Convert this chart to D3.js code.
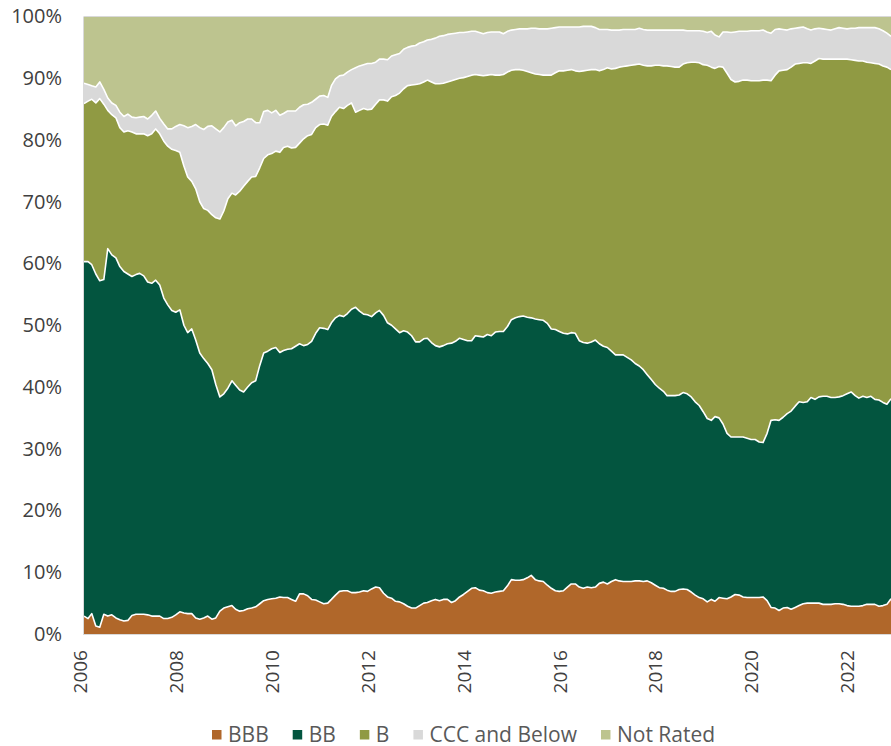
<!DOCTYPE html>
<html>
<head>
<meta charset="utf-8">
<script src="https://cdn.jsdelivr.net/npm/d3@7"></script>
<style>
  body { margin: 0; background: #fff; }
  svg { display: block; }
  text { font-family: "Open Sans", sans-serif; }
</style>
</head>
<body>
<svg class="graph" width="891" height="746"></svg>
<script>
// rating buckets and their colours
const ratings = ['BBB', 'BB', 'B', 'CCC and Below', 'Not Rated'];
const colors = ['#b0672a', '#03553f', '#909a43', '#d9d9d9', '#bdc48f'];

// axis ticks
const yearTicks = ['2006', '2008', '2010', '2012', '2014', '2016', '2018', '2020', '2022'];
const pctTicks = [0, 0.1, 0.2, 0.3, 0.4, 0.5, 0.6, 0.7, 0.8, 0.9, 1];

// monthly share (%) of each rating bucket, Jan 2006 - Nov 2022
const bbb = [
  2.9, 2.5, 3.3, 1.3, 1.1, 3.2, 2.9, 3.1, 2.6, 2.3, 2.1, 2.2, 3.0, 3.2, 3.2, 3.2, 3.1, 2.9, 2.9, 2.9,
  2.5, 2.5, 2.7, 3.1, 3.6, 3.4, 3.3, 3.3, 2.6, 2.4, 2.6, 2.9, 2.4, 2.6, 3.7, 4.2, 4.4, 4.6, 4.0, 3.7,
  3.8, 4.1, 4.2, 4.4, 4.9, 5.4, 5.6, 5.7, 5.8, 6.0, 5.9, 5.9, 5.6, 5.3, 6.5, 6.5, 6.2, 5.6, 5.5, 5.2,
  4.9, 5.0, 5.6, 6.3, 6.9, 7.0, 7.0, 6.7, 6.7, 6.8, 7.0, 6.9, 7.3, 7.6, 7.5, 6.6, 6.0, 5.8, 5.3, 5.2,
  4.9, 4.5, 4.2, 4.2, 4.6, 5.0, 5.1, 5.4, 5.6, 5.4, 5.6, 5.6, 5.1, 5.4, 6.0, 6.4, 6.9, 7.4, 7.5, 7.1,
  7.0, 6.7, 6.6, 6.8, 6.9, 7.0, 7.8, 8.8, 8.7, 8.7, 8.8, 9.1, 9.5, 8.8, 8.6, 8.5, 7.9, 7.4, 7.0, 6.9,
  7.0, 7.6, 8.1, 8.1, 7.6, 7.4, 7.6, 7.5, 7.6, 8.2, 8.4, 8.1, 8.5, 8.8, 8.6, 8.5, 8.5, 8.5, 8.6, 8.6,
  8.5, 8.6, 8.3, 7.9, 7.5, 7.4, 7.1, 6.9, 6.9, 7.2, 7.3, 7.2, 6.8, 6.3, 5.9, 5.7, 5.2, 5.6, 5.3, 5.9,
  5.8, 5.7, 6.0, 6.4, 6.3, 6.0, 5.9, 5.9, 5.9, 5.9, 6.0, 5.4, 4.3, 4.2, 3.8, 4.2, 4.3, 4.0, 4.3, 4.6,
  4.9, 5.0, 5.0, 5.0, 5.0, 4.8, 4.8, 4.8, 4.9, 4.9, 4.8, 4.6, 4.5, 4.5, 4.5, 4.6, 4.8, 4.8, 4.8, 4.5,
  4.6, 4.8, 5.7
];
const bb = [
  57.4, 57.8, 56.5, 57.0, 56.1, 54.2, 59.5, 58.3, 58.3, 57.2, 56.6, 56.1, 54.9, 55.0, 55.2, 54.8, 53.9, 53.9, 54.4, 53.6,
  51.9, 50.8, 49.7, 49.0, 48.9, 46.6, 45.5, 46.1, 45.0, 43.1, 42.0, 40.9, 40.4, 37.8, 34.7, 34.7, 35.4, 36.4, 36.3, 35.8,
  35.4, 35.9, 36.5, 36.6, 38.6, 40.1, 40.2, 40.5, 40.6, 39.6, 40.0, 40.2, 40.6, 41.3, 40.5, 40.2, 40.7, 41.8, 43.2, 44.4,
  44.6, 44.3, 44.8, 44.9, 44.7, 44.4, 44.9, 45.9, 46.2, 45.5, 44.8, 44.8, 44.1, 44.4, 44.9, 45.0, 44.4, 44.2, 44.1, 43.6,
  44.2, 44.4, 44.1, 43.1, 42.7, 42.8, 42.8, 41.8, 41.1, 41.1, 41.1, 41.4, 42.0, 42.0, 41.9, 41.3, 40.6, 40.1, 40.8, 41.1,
  41.1, 41.8, 41.7, 42.1, 42.1, 42.0, 42.0, 42.1, 42.5, 42.7, 42.7, 42.2, 41.7, 42.2, 42.3, 42.3, 42.4, 42.0, 42.3, 42.1,
  41.7, 41.0, 40.7, 40.6, 39.9, 39.8, 39.5, 39.8, 40.0, 38.8, 38.2, 38.3, 37.3, 36.4, 36.6, 36.7, 36.3, 35.9, 35.2, 34.8,
  34.3, 33.4, 32.9, 32.5, 32.3, 31.9, 31.5, 31.7, 31.7, 31.5, 31.8, 31.7, 31.6, 31.3, 31.1, 30.3, 29.7, 29.0, 29.9, 29.1,
  28.2, 26.8, 25.9, 25.5, 25.6, 25.9, 25.8, 25.6, 25.6, 25.2, 25.0, 27.1, 30.3, 30.5, 30.8, 30.9, 31.4, 32.1, 32.6, 33.0,
  32.6, 32.6, 33.3, 33.0, 33.4, 33.7, 33.7, 33.5, 33.4, 33.5, 33.8, 34.3, 34.7, 34.1, 33.7, 33.9, 33.5, 33.7, 33.2, 33.4,
  32.9, 32.4, 32.4
];
const b = [
  25.6, 26.0, 26.8, 27.7, 29.5, 28.4, 22.4, 22.7, 22.7, 22.5, 22.6, 23.2, 23.4, 22.8, 22.6, 23.0, 23.7, 24.2, 24.5, 24.5,
  25.4, 25.7, 26.1, 26.2, 25.5, 25.8, 25.2, 23.9, 24.5, 24.5, 24.3, 24.8, 25.1, 27.0, 28.8, 29.6, 30.7, 30.4, 30.8, 32.2,
  33.3, 33.3, 33.3, 33.1, 32.0, 31.5, 31.8, 31.6, 31.8, 32.4, 32.9, 32.9, 32.5, 32.2, 32.5, 33.5, 33.8, 33.5, 33.3, 32.9,
  33.1, 33.1, 33.4, 33.4, 33.7, 33.7, 33.7, 33.4, 31.6, 32.5, 33.3, 33.2, 33.6, 33.8, 34.1, 34.9, 35.9, 37.0, 37.8, 38.8,
  39.2, 39.9, 40.6, 41.7, 41.8, 41.6, 41.8, 42.2, 42.4, 42.6, 42.5, 42.4, 42.5, 42.4, 42.1, 42.4, 42.8, 43.0, 42.3, 42.3,
  42.3, 42.0, 42.3, 41.6, 41.5, 41.6, 41.2, 40.4, 40.2, 40.0, 39.8, 39.8, 39.7, 39.7, 39.7, 39.7, 40.2, 41.1, 41.6, 42.2,
  42.5, 42.7, 42.6, 42.5, 43.6, 44.0, 44.2, 44.1, 43.8, 44.2, 44.8, 45.3, 45.7, 46.4, 46.6, 46.7, 47.2, 47.7, 48.4, 48.9,
  49.3, 50.0, 50.8, 51.7, 52.3, 52.7, 53.4, 53.3, 53.2, 53.1, 53.2, 53.6, 54.2, 55.0, 55.5, 56.2, 57.2, 57.2, 56.4, 56.9,
  57.8, 58.3, 57.9, 57.5, 57.6, 57.8, 58.0, 58.1, 58.1, 58.5, 58.7, 57.2, 55.0, 55.8, 56.6, 56.2, 55.7, 55.7, 55.4, 54.8,
  55.0, 54.9, 54.1, 54.8, 54.8, 54.6, 54.6, 54.8, 54.8, 54.7, 54.5, 54.2, 53.8, 54.3, 54.6, 54.3, 54.3, 54.0, 54.4, 54.4,
  54.5, 54.6, 53.3
];
const ccc = [
  3.3, 2.7, 2.2, 2.6, 2.7, 2.4, 2.0, 1.9, 2.0, 2.5, 2.5, 2.7, 2.4, 2.6, 2.7, 2.8, 2.7, 3.0, 2.9, 2.5,
  2.8, 2.8, 3.3, 3.9, 4.5, 6.5, 8.0, 8.9, 10.4, 12.0, 12.8, 13.6, 14.4, 14.4, 14.1, 13.5, 12.4, 11.8, 11.2, 11.1,
  10.5, 10.1, 9.4, 8.7, 7.3, 7.6, 7.2, 6.6, 6.6, 6.0, 5.5, 5.7, 6.0, 5.9, 5.8, 5.5, 5.1, 5.2, 4.6, 4.6,
  4.6, 4.5, 5.0, 5.3, 5.1, 5.4, 5.4, 5.4, 7.2, 7.2, 7.1, 7.5, 7.4, 6.8, 6.6, 6.6, 6.7, 6.6, 6.6, 6.4,
  6.4, 6.2, 6.3, 6.3, 6.6, 6.5, 6.5, 6.9, 7.4, 7.7, 7.7, 7.7, 7.6, 7.5, 7.4, 7.3, 7.2, 7.1, 7.0, 6.9,
  6.8, 6.9, 6.9, 7.0, 7.0, 6.6, 6.6, 6.5, 6.5, 6.6, 6.7, 6.9, 7.2, 7.4, 7.4, 7.5, 7.5, 7.6, 7.3, 7.1,
  7.1, 7.0, 6.9, 7.1, 7.2, 7.2, 7.1, 7.0, 6.8, 6.7, 6.5, 6.2, 6.3, 6.2, 6.0, 6.0, 5.9, 5.8, 5.7, 5.8,
  5.8, 5.8, 5.8, 5.7, 5.7, 5.8, 5.8, 5.9, 6.0, 6.0, 5.5, 5.2, 5.1, 5.1, 5.2, 5.4, 5.3, 5.8, 5.4, 4.8,
  5.7, 6.7, 7.6, 8.1, 8.1, 7.9, 7.9, 8.1, 8.1, 8.1, 8.1, 7.8, 7.7, 7.4, 6.8, 6.6, 6.4, 6.2, 5.8, 5.8,
  5.8, 5.5, 5.4, 5.2, 4.9, 4.9, 4.8, 4.7, 4.9, 5.1, 5.0, 4.9, 5.1, 5.2, 5.4, 5.4, 5.6, 5.7, 5.8, 5.7,
  5.7, 5.5, 5.4
];
const notRated = [
  10.8, 11.0, 11.2, 11.4, 10.6, 11.8, 13.2, 14.0, 14.4, 15.5, 16.2, 15.8, 16.3, 16.4, 16.3, 16.2, 16.6, 16.0, 15.3, 16.5,
  17.4, 18.2, 18.2, 17.8, 17.5, 17.7, 18.0, 17.8, 17.5, 18.0, 18.3, 17.8, 17.7, 18.2, 18.7, 18.0, 17.1, 16.8, 17.7, 17.2,
  17.0, 16.6, 16.6, 17.2, 17.2, 15.4, 15.2, 15.6, 15.2, 16.0, 15.7, 15.3, 15.3, 15.3, 14.7, 14.3, 14.2, 13.9, 13.4, 12.9,
  12.8, 13.1, 11.2, 10.1, 9.6, 9.5, 9.0, 8.6, 8.3, 8.0, 7.8, 7.6, 7.6, 7.4, 6.9, 6.9, 7.0, 6.4, 6.2, 6.0,
  5.3, 5.0, 4.8, 4.7, 4.3, 4.1, 3.8, 3.7, 3.5, 3.2, 3.1, 2.9, 2.8, 2.7, 2.6, 2.6, 2.5, 2.4, 2.4, 2.6,
  2.8, 2.6, 2.5, 2.5, 2.5, 2.8, 2.4, 2.2, 2.1, 2.0, 2.0, 2.0, 1.9, 1.9, 2.0, 2.0, 2.0, 1.9, 1.8, 1.7,
  1.7, 1.7, 1.7, 1.7, 1.7, 1.6, 1.6, 1.6, 1.8, 2.1, 2.1, 2.1, 2.2, 2.2, 2.2, 2.1, 2.1, 2.1, 2.1, 1.9,
  2.1, 2.2, 2.2, 2.2, 2.2, 2.2, 2.2, 2.2, 2.2, 2.2, 2.2, 2.3, 2.3, 2.3, 2.3, 2.4, 2.6, 2.4, 3.0, 3.3,
  2.5, 2.5, 2.6, 2.5, 2.4, 2.4, 2.4, 2.3, 2.3, 2.3, 2.2, 2.5, 2.7, 2.1, 2.0, 2.1, 2.2, 2.0, 1.9, 1.8,
  1.7, 2.0, 2.2, 2.0, 1.9, 2.0, 2.1, 2.2, 2.0, 1.8, 1.9, 2.0, 1.9, 1.9, 1.8, 1.8, 1.8, 1.8, 1.8, 2.0,
  2.3, 2.7, 3.2
];

// monthly categories
const months = d3.timeMonth.range(new Date(2006, 0, 1), new Date(2022, 11, 1));

// table for the stack layout
const shares = [bbb, bb, b, ccc, notRated];
const rows = months.map((date, i) => {
    const row = { date };
    ratings.forEach((r, k) => row[r] = shares[k][i]);
    return row;
});
const series = d3.stack().keys(ratings).offset(d3.stackOffsetExpand)(rows);

// plot area
const plotL = 84, plotR = 891, plotT = 16.5, plotB = 634;

const x = d3.scaleTime().domain(d3.extent(months)).range([plotL, plotR]);
const y = d3.scaleLinear().domain([0, 1]).range([plotB, plotT]);

const svg = d3.select('svg.graph');

// stacked areas
const area = d3.area()
    .x(d => x(d.data.date))
    .y0(d => y(d[0]))
    .y1(d => y(d[1]));

svg.append('g').selectAll('path')
    .data(series)
    .join('path')
    .attr('fill', (d, i) => colors[i])
    .attr('d', area);

// white separator along the top of each band (not the last one)
const edge = d3.line()
    .x(d => x(d.data.date))
    .y(d => y(d[1]));

svg.append('g').selectAll('path')
    .data(series.slice(0, 4))
    .join('path')
    .attr('fill', 'none')
    .attr('stroke', '#fff')
    .attr('stroke-width', 1.6)
    .attr('stroke-linejoin', 'round')
    .attr('d', edge);

// light frame: top gridline, left and bottom axis lines
const frame = svg.append('g').attr('stroke', '#d9d9d9').attr('stroke-width', 1);
frame.append('line').attr('x1', plotL).attr('x2', plotR).attr('y1', plotT).attr('y2', plotT);
frame.append('line').attr('x1', plotL - 0.5).attr('x2', plotL - 0.5).attr('y1', plotT).attr('y2', plotB + 1);
frame.append('line').attr('x1', plotL).attr('x2', plotR).attr('y1', plotB + 0.5).attr('y2', plotB + 0.5);

// y axis
const yAxis = svg.append('g')
    .attr('transform', `translate(${plotL},0)`)
    .call(d3.axisLeft(y).tickValues(pctTicks).tickFormat(d3.format('.0%')).tickSize(0).tickPadding(22));
yAxis.select('.domain').remove();
yAxis.selectAll('text')
    .attr('font-size', 20)
    .attr('font-family', '"Open Sans", sans-serif')
    .attr('fill', '#404040');

// x axis, rotated year labels
const xAxis = svg.append('g')
    .attr('transform', `translate(0,${plotB})`)
    .call(d3.axisBottom(x)
        .tickValues(yearTicks.map(t => new Date(+t, 0, 1)))
        .tickFormat(d3.timeFormat('%Y'))
        .tickSize(0));
xAxis.select('.domain').remove();
xAxis.selectAll('text')
    .attr('x', 0)
    .attr('y', 0)
    .attr('dy', '0.35em')
    .attr('transform', 'translate(-4,16) rotate(-90)')
    .attr('text-anchor', 'end')
    .attr('font-size', 19)
    .attr('font-family', '"Open Sans", sans-serif')
    .attr('fill', '#404040');

// legend
const legend = svg.append('g').attr('class', 'legend');
let lx = 212;
ratings.forEach((r, i) => {
    legend.append('rect')
        .attr('x', lx).attr('y', 730)
        .attr('width', 9.5).attr('height', 9.5)
        .attr('fill', colors[i]);
    const t = legend.append('text')
        .attr('x', lx + 16).attr('y', 741.5)
        .attr('font-size', 21)
        .attr('fill', '#595959')
        .text(r);
    lx += 16 + t.node().getComputedTextLength() + 24;
});
</script>
</body>
</html>
